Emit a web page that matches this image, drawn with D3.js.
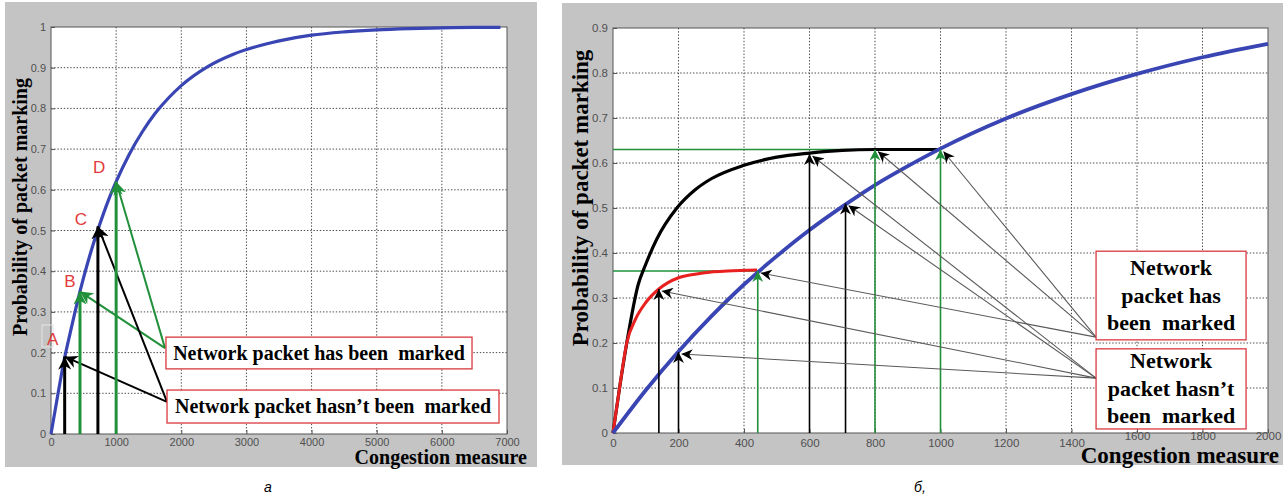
<!DOCTYPE html>
<html>
<head>
<meta charset="utf-8">
<script src="https://cdn.jsdelivr.net/npm/d3@7"></script>
<style>
  body { margin: 0; background: #fff; }
  svg { display: block; }
</style>
</head>
<body>
<div id="chart"></div>
<script>
// ---- panel a: marking probability vs congestion measure
const aCurveX = [0, 100, 200, 300, 400, 500, 600, 700, 800, 900, 1000, 1200, 1400, 1600, 1800, 2000, 2400, 2800, 3200, 3600, 4000, 4500, 5000, 5500, 6000, 6500, 6900]
const aCurveP = [0, 0.092, 0.18, 0.252, 0.321, 0.384, 0.441, 0.492, 0.539, 0.582, 0.62, 0.687, 0.742, 0.788, 0.825, 0.856, 0.902, 0.933, 0.954, 0.969, 0.98, 0.988, 0.993, 0.996, 0.998, 0.999, 0.999]
const aPointName = ["A", "B", "C", "D"]
const aPointX = [210, 445, 720, 1000]
const aPointP = [0.19, 0.35, 0.51, 0.62]
const aPointMarked = [false, true, false, true]
const aXTicks = [0, 1000, 2000, 3000, 4000, 5000, 6000, 7000]
const aYTicks = [0, 0.1, 0.2, 0.3, 0.4, 0.5, 0.6, 0.7, 0.8, 0.9, 1]

// ---- panel b: three marking curves
const bBlueX = [0, 100, 200, 300, 400, 500, 600, 700, 800, 900, 1000, 1200, 1400, 1600, 1800, 2000]
const bBlueP = [0, 0.095, 0.181, 0.259, 0.33, 0.393, 0.451, 0.503, 0.551, 0.593, 0.632, 0.699, 0.753, 0.798, 0.835, 0.865]
const bBlackX = [0, 20, 42, 77, 100, 133, 195, 250, 300, 400, 500, 600, 700, 800, 1000]
const bBlackP = [0, 0.1, 0.2, 0.33, 0.375, 0.43, 0.5, 0.54, 0.565, 0.595, 0.613, 0.622, 0.628, 0.63, 0.63]
const bRedX = [0, 20, 42, 70, 100, 140, 200, 250, 300, 350, 440]
const bRedP = [0, 0.1, 0.2, 0.255, 0.29, 0.32, 0.345, 0.353, 0.358, 0.36, 0.362]
const bPointX = [140, 200, 600, 710, 442, 800, 1000]
const bPointP = [0.32, 0.18, 0.62, 0.51, 0.36, 0.63, 0.63]
const bPointMarked = [false, false, false, false, true, true, true]
const bLevels = [0.36, 0.63]            // green horizontal guides
const bLevelEnd = [442, 1000]
const bXTicks = [0, 200, 400, 600, 800, 1000, 1200, 1400, 1600, 1800, 2000]
const bYTicks = [0, 0.1, 0.2, 0.3, 0.4, 0.5, 0.6, 0.7, 0.8, 0.9]

const W = 1288, H = 497
const GREEN = "#21903a"
const BLUE = "#3a45b4"
const RED = "#e23a3a"
const serif = "'Liberation Serif', 'Times New Roman', serif"
const sans = "'Liberation Sans', Arial, sans-serif"

const svg = d3.select("#chart").append("svg")
    .attr("width", W)
    .attr("height", H)

// arrow heads
const defs = svg.append("defs")
const marker = (id, color, size) => {
    defs.append("marker")
        .attr("id", id)
        .attr("viewBox", "0 0 10 10")
        .attr("refX", 10).attr("refY", 5)
        .attr("markerUnits", "userSpaceOnUse")
        .attr("markerWidth", size).attr("markerHeight", size)
        .attr("orient", "auto")
        .append("path")
        .attr("d", "M0,0 L10,5 L0,10 L3,5 Z")
        .attr("fill", color)
}
marker("hBlack", "#000", 13)
marker("hGreen", GREEN, 13)
marker("hBlackS", "#000", 11)
marker("hGreenS", GREEN, 11)

function panel(o) {
    const g = svg.append("g")
    g.append("rect")
        .attr("x", o.bg[0]).attr("y", o.bg[1])
        .attr("width", o.bg[2] - o.bg[0]).attr("height", o.bg[3] - o.bg[1])
        .attr("fill", "#c4c4c4")

    const x = d3.scaleLinear().domain(o.xDomain).range([o.left, o.right])
    const y = d3.scaleLinear().domain(o.yDomain).range([o.bottom, o.top])

    g.append("rect")
        .attr("x", o.left).attr("y", o.top)
        .attr("width", o.right - o.left).attr("height", o.bottom - o.top)
        .attr("fill", "#fff")

    // dotted grid
    const grid = g.append("g")
        .attr("stroke", "#4a4a4a")
        .attr("stroke-width", 1)
        .attr("stroke-dasharray", "1.4,1.8")
    grid.selectAll(".gx").data(o.xTicks.slice(1, -1)).join("line")
        .attr("x1", d => x(d)).attr("x2", d => x(d))
        .attr("y1", o.top).attr("y2", o.bottom)
    grid.selectAll(".gy").data(o.yTicks.slice(1, -1)).join("line")
        .attr("y1", d => y(d)).attr("y2", d => y(d))
        .attr("x1", o.left).attr("x2", o.right)

    const xAxis = g.append("g")
        .attr("transform", `translate(0,${o.bottom})`)
        .call(d3.axisBottom(x).tickValues(o.xTicks).tickSizeInner(-4).tickSizeOuter(0).tickPadding(o.xPad).tickFormat(d3.format("d")))
    const yAxis = g.append("g")
        .attr("transform", `translate(${o.left},0)`)
        .call(d3.axisLeft(y).tickValues(o.yTicks).tickSizeInner(-4).tickSizeOuter(0).tickPadding(5).tickFormat(d => String(d)))
    for (const ax of [xAxis, yAxis]) {
        ax.select(".domain").remove()
        ax.selectAll(".tick line").attr("stroke", "#555")
        ax.selectAll(".tick text")
            .attr("fill", "#505050")
            .style("font-family", sans)
            .style("font-size", o.tickFont + "px")
    }

    g.append("rect")
        .attr("x", o.left).attr("y", o.top)
        .attr("width", o.right - o.left).attr("height", o.bottom - o.top)
        .attr("fill", "none").attr("stroke", "#555").attr("stroke-width", 1)

    g.append("text")
        .attr("transform", `translate(${o.yLabelX},${o.yLabelY}) rotate(-90)`)
        .attr("text-anchor", "middle")
        .style("font-family", serif).style("font-weight", "bold")
        .style("font-size", o.labelFont + "px")
        .text("Probability of packet marking")

    g.append("text")
        .attr("x", o.xLabelX).attr("y", o.xLabelY)
        .attr("text-anchor", "end")
        .style("font-family", serif).style("font-weight", "bold")
        .style("font-size", o.labelFont + "px")
        .text("Congestion measure")

    g.append("text")
        .attr("x", o.capX).attr("y", 492)
        .attr("text-anchor", "middle")
        .style("font-family", sans).style("font-style", "italic")
        .style("font-size", "14px")
        .text(o.caption)

    return { g, x, y, xAxis }
}

const labelBox = (g, x0, y0, x1, y1) =>
    g.append("rect")
        .attr("x", x0).attr("y", y0)
        .attr("width", x1 - x0).attr("height", y1 - y0)
        .attr("fill", "#fff").attr("stroke", "#d9393e").attr("stroke-width", 1.3)

// ================= panel a =================
{
    const { g, x, y } = panel({
        bg: [5, 2, 537, 467],
        left: 51, right: 507, top: 27, bottom: 434,
        xDomain: [0, 7000], yDomain: [0, 1],
        xTicks: aXTicks, yTicks: aYTicks,
        tickFont: 11, labelFont: 20, xPad: 4,
        yLabelX: 27, yLabelY: 207,
        xLabelX: 527, xLabelY: 464,
        capX: 268, caption: "а"
    })

    // faint leftover frame near A
    g.append("rect")
        .attr("x", 42).attr("y", 325).attr("width", 11).attr("height", 22)
        .attr("fill", "none").attr("stroke", "#e4e4e4").attr("stroke-width", 1)

    g.append("path")
        .datum(d3.range(aCurveX.length))
        .attr("fill", "none")
        .attr("stroke", BLUE)
        .attr("stroke-width", 3.2)
        .attr("d", d3.line().curve(d3.curveMonotoneX).x(i => x(aCurveX[i])).y(i => y(aCurveP[i])))

    // anchors of the leader lines sit on the left edge of the two boxes
    const markedFrom = [1750, 0.211]
    const unmarkedFrom = [1781, 0.079]

    const idx = d3.range(aPointX.length)
    g.selectAll(".lead").data(idx).join("line")
        .attr("x1", i => x(aPointMarked[i] ? markedFrom[0] : unmarkedFrom[0]))
        .attr("y1", i => y(aPointMarked[i] ? markedFrom[1] : unmarkedFrom[1]))
        .attr("x2", i => x(aPointX[i]))
        .attr("y2", i => y(aPointP[i]))
        .attr("stroke", i => aPointMarked[i] ? GREEN : "#000")
        .attr("stroke-width", 2)
        .attr("marker-end", i => aPointMarked[i] ? "url(#hGreen)" : "url(#hBlack)")

    g.selectAll(".vert").data(idx).join("line")
        .attr("x1", i => x(aPointX[i])).attr("x2", i => x(aPointX[i]))
        .attr("y1", y(0))
        .attr("y2", i => y(aPointP[i]))
        .attr("stroke", i => aPointMarked[i] ? GREEN : "#000")
        .attr("stroke-width", 3)
        .attr("marker-end", i => aPointMarked[i] ? "url(#hGreen)" : "url(#hBlack)")

    // letter placement relative to each point
    const nameDx = [-12, -10, -17, -17]
    const nameDy = [-12, -5, -1, -9]
    g.selectAll(".pname").data(idx).join("text")
        .attr("x", i => x(aPointX[i]) + nameDx[i])
        .attr("y", i => y(aPointP[i]) + nameDy[i])
        .attr("text-anchor", "middle")
        .attr("fill", RED)
        .style("font-family", sans)
        .style("font-size", "17px")
        .text(i => aPointName[i])

    labelBox(g, x(1765), y(0.238), x(6463), y(0.160))
    labelBox(g, x(1781), y(0.108), x(6877), y(0.027))
    g.append("text")
        .attr("x", (x(1765) + x(6463)) / 2).attr("y", y(0.160) - 9)
        .attr("text-anchor", "middle")
        .style("font-family", serif).style("font-weight", "bold").style("font-size", "20px")
        .text("Network packet has been\u00a0 marked")
    g.append("text")
        .attr("x", (x(1781) + x(6877)) / 2).attr("y", y(0.027) - 10)
        .attr("text-anchor", "middle")
        .style("font-family", serif).style("font-weight", "bold").style("font-size", "20px")
        .text("Network packet hasn\u2019t been\u00a0 marked")
}

// ================= panel b =================
{
    const { g, x, y, xAxis } = panel({
        bg: [562, 3, 1283, 465],
        left: 613, right: 1268, top: 28, bottom: 433,
        xDomain: [0, 2000], yDomain: [0, 0.9],
        xTicks: bXTicks, yTicks: bYTicks,
        tickFont: 11.5, labelFont: 23, xPad: 6,
        yLabelX: 588, yLabelY: 198,
        xLabelX: 1279, xLabelY: 463,
        capX: 920, caption: "б,"
    })
    // labels under the pasted axis title sit a little higher
    xAxis.selectAll(".tick text").filter(d => d >= 1600).attr("dy", "0.1em")

    // green guide levels
    g.selectAll(".lvl").data(d3.range(bLevels.length)).join("line")
        .attr("x1", x(0)).attr("x2", i => x(bLevelEnd[i]))
        .attr("y1", i => y(bLevels[i])).attr("y2", i => y(bLevels[i]))
        .attr("stroke", GREEN).attr("stroke-width", 1.5)

    const curve = (xs, ps, color, w) => g.append("path")
        .datum(d3.range(xs.length))
        .attr("fill", "none")
        .attr("stroke", color)
        .attr("stroke-width", w)
        .attr("stroke-linejoin", "round")
        .attr("d", d3.line().curve(d3.curveMonotoneX).x(i => x(xs[i])).y(i => y(ps[i])))
    curve(bBlackX, bBlackP, "#000", 3.2)
    curve(bRedX, bRedP, "#e82020", 3)
    curve(bBlueX, bBlueP, BLUE, 3.8)

    const idx = d3.range(bPointX.length)
    g.selectAll(".vert").data(idx).join("line")
        .attr("x1", i => x(bPointX[i])).attr("x2", i => x(bPointX[i]))
        .attr("y1", y(0))
        .attr("y2", i => y(bPointP[i]))
        .attr("stroke", i => bPointMarked[i] ? GREEN : "#000")
        .attr("stroke-width", 1.6)
        .attr("marker-end", i => bPointMarked[i] ? "url(#hGreenS)" : "url(#hBlackS)")

    const markedFrom = [1475, 0.213]
    const unmarkedFrom = [1475, 0.122]
    g.selectAll(".lead").data(idx).join("line")
        .attr("x1", i => x(bPointMarked[i] ? markedFrom[0] : unmarkedFrom[0]))
        .attr("y1", i => y(bPointMarked[i] ? markedFrom[1] : unmarkedFrom[1]))
        .attr("x2", i => x(bPointX[i]) + 3)
        .attr("y2", i => y(bPointP[i]) + 2)
        .attr("stroke", "#5a5a5a")
        .attr("stroke-width", 1.1)
        .attr("marker-end", "url(#hBlackS)")

    labelBox(g, x(1475), y(0.404), x(1933), y(0.207))
    labelBox(g, x(1475), y(0.187), x(1933), y(0.009))
    const cx = (x(1475) + x(1933)) / 2
    const lines1 = ["Network", "packet has", "been\u00a0 marked"]
    const lines2 = ["Network", "packet hasn\u2019t", "been\u00a0 marked"]
    g.selectAll(".t1").data(lines1).join("text")
        .attr("x", cx).attr("y", (d, i) => 275 + i * 27.5)
        .attr("text-anchor", "middle")
        .style("font-family", serif).style("font-weight", "bold").style("font-size", "22px")
        .text(d => d)
    g.selectAll(".t2").data(lines2).join("text")
        .attr("x", cx).attr("y", (d, i) => 368 + i * 27.5)
        .attr("text-anchor", "middle")
        .style("font-family", serif).style("font-weight", "bold").style("font-size", "22px")
        .text(d => d)
}
</script>
</body>
</html>
